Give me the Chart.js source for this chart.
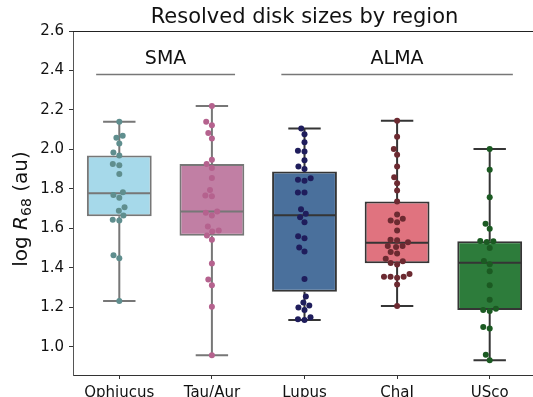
<!DOCTYPE html>
<html>
<head>
<meta charset="utf-8">
<title>Resolved disk sizes by region</title>
<script src="https://cdn.jsdelivr.net/npm/chart.js@4.4.1/dist/chart.umd.min.js"></script>
<style>
  html, body { margin: 0; padding: 0; background: #fff; overflow: hidden; }
</style>
</head>
<body>
<canvas id="diskChart" width="540" height="397"></canvas>
<script>
// Data (log R68 in au)

const regions = ['Ophiucus', 'Tau/Aur', 'Lupus', 'ChaI', 'USco'];

const ophiucus = [2.14, 2.07, 2.06, 2.03, 1.985, 1.97, 1.926, 1.92, 1.876, 1.783, 1.77, 1.755,
  1.707, 1.69, 1.666, 1.644, 1.64, 1.465, 1.449, 1.233];
const tauAur = [2.22, 2.14, 2.123, 2.083, 2.055, 1.948, 1.926, 1.906, 1.856, 1.795, 1.767, 1.763,
  1.686, 1.679, 1.666, 1.61, 1.59, 1.585, 1.565, 1.543, 1.422, 1.341, 1.313, 1.203, 0.958];
const lupus = [2.106, 2.077, 2.037, 1.993, 1.99, 1.945, 1.914, 1.901, 1.854, 1.847, 1.842, 1.782,
  1.782, 1.697, 1.674, 1.657, 1.632, 1.56, 1.551, 1.504, 1.484, 1.344, 1.256, 1.225, 1.21, 1.2,
  1.187, 1.15, 1.14, 1.136];
const chaI = [2.145, 2.064, 2.002, 1.973, 1.914, 1.859, 1.829, 1.792, 1.736, 1.671, 1.649, 1.64,
  1.632, 1.59, 1.543, 1.54, 1.53, 1.511, 1.511, 1.506, 1.481, 1.473, 1.447, 1.434, 1.425, 1.417,
  1.37, 1.355, 1.355, 1.355, 1.35, 1.316, 1.207];
const usco = [2.002, 1.898, 1.758, 1.624, 1.598, 1.536, 1.535, 1.531, 1.501, 1.435, 1.419, 1.383,
  1.313, 1.239, 1.193, 1.187, 1.182, 1.101, 1.094, 0.96, 0.933];

const regionValues = [ophiucus, tauAur, lupus, chaI, usco];

// box stats as drawn in the figure
const boxQ1 = [1.662, 1.563, 1.279, 1.424, 1.187];
const boxMedian = [1.778, 1.686, 1.667, 1.528, 1.427];
const boxQ3 = [1.97, 1.926, 1.889, 1.736, 1.535];
const whiskerLow = [1.233, 0.958, 1.136, 1.207, 0.933];
const whiskerHigh = [2.14, 2.22, 2.106, 2.145, 2.002];

const yTicks = [1.0, 1.2, 1.4, 1.6, 1.8, 2.0, 2.2, 2.4, 2.6];

// survey brackets above the boxes
const surveys = ['SMA', 'ALMA'];
const surveyFrom = [-0.25, 1.75];
const surveyTo = [1.25, 4.25];
const surveyLevel = 2.38;

// Styles

const boxColors = ['#a6d9ea', '#c17fa4', '#4a709c', '#e0737f', '#2d7c3b'];
const edgeColors = ['#777777', '#777777', '#353535', '#353535', '#353535'];
const dotColors = ['#5f8e8e', '#b5628e', '#1f1d5c', '#6c2a31', '#1b5a22'];

const BOX_WIDTH = 0.7;
const PX_PER_X = 92.6;
const PX_PER_Y = 197.5;
const DOT_GAP = 6.6;

Chart.defaults.font.family = 'DejaVu Sans';
Chart.defaults.color = '#111';

// Swarm layout: put each point as close to the centre as it can go without overlapping

function swarmOffsets(values)
{
  const order = values.map((v, i) => i).sort((a, b) => values[a] - values[b]);
  const placed = [];
  const offsets = new Array(values.length);

  order.forEach(i => {
    const y = values[i] * PX_PER_Y;
    const near = placed.filter(p => Math.abs(p.y - y) < DOT_GAP);
    const candidates = [0];

    near.forEach(p => {
      const dx = Math.sqrt(DOT_GAP * DOT_GAP - (p.y - y) * (p.y - y));
      candidates.push(p.x - dx, p.x + dx);
    });

    candidates.sort((a, b) => Math.abs(a) - Math.abs(b) || a - b);

    const x = candidates.find(c =>
      near.every(p => (p.x - c) * (p.x - c) + (p.y - y) * (p.y - y) >= DOT_GAP * DOT_GAP - 0.01)
    );

    placed.push({ x: x, y: y });
    offsets[i] = x / PX_PER_X;
  });

  return offsets;
}

// Datasets

const boxDataset =
{
  type: 'bar',
  order: 1,
  data: regions.map((r, i) => ({ x: i, y: [boxQ1[i], boxQ3[i]] })),
  backgroundColor: boxColors,
  borderColor: edgeColors,
  borderWidth: 2,
  borderSkipped: false,
  barPercentage: BOX_WIDTH,
  categoryPercentage: 1.0
};

const dotDatasets = regionValues.map((vals, i) => {
  const offsets = swarmOffsets(vals);
  return {
    type: 'scatter',
    order: 0,
    data: vals.map((v, k) => ({ x: i + offsets[k], y: v })),
    backgroundColor: dotColors[i],
    borderWidth: 0,
    pointRadius: 3,
    pointHoverRadius: 3
  };
});

// Whiskers, medians, survey brackets and the text matplotlib puts around the axes

const boxPlugin =
{
  id: 'boxExtras',

  afterDatasetDraw(chart, args)
  {
    if (args.index !== 0) return;

    const ctx = chart.ctx;
    const x = chart.scales.x;
    const y = chart.scales.y;

    ctx.save();
    ctx.lineWidth = 2;

    regions.forEach((r, i) => {
      const cx = x.getPixelForValue(i);
      const halfBox = x.getPixelForValue(i + BOX_WIDTH / 2) - cx;
      const halfCap = halfBox / 2;

      ctx.strokeStyle = edgeColors[i];
      ctx.beginPath();

      // whiskers
      ctx.moveTo(cx, y.getPixelForValue(boxQ3[i]));
      ctx.lineTo(cx, y.getPixelForValue(whiskerHigh[i]));
      ctx.moveTo(cx, y.getPixelForValue(boxQ1[i]));
      ctx.lineTo(cx, y.getPixelForValue(whiskerLow[i]));

      // caps
      ctx.moveTo(cx - halfCap, y.getPixelForValue(whiskerHigh[i]));
      ctx.lineTo(cx + halfCap, y.getPixelForValue(whiskerHigh[i]));
      ctx.moveTo(cx - halfCap, y.getPixelForValue(whiskerLow[i]));
      ctx.lineTo(cx + halfCap, y.getPixelForValue(whiskerLow[i]));

      // median
      ctx.moveTo(cx - halfBox + 1, y.getPixelForValue(boxMedian[i]));
      ctx.lineTo(cx + halfBox - 1, y.getPixelForValue(boxMedian[i]));
      ctx.stroke();
    });

    ctx.restore();
  },

  afterDraw(chart)
  {
    const ctx = chart.ctx;
    const area = chart.chartArea;
    const x = chart.scales.x;
    const y = chart.scales.y;

    ctx.save();

    // top spine
    ctx.strokeStyle = '#222';
    ctx.lineWidth = 1;
    ctx.beginPath();
    ctx.moveTo(area.left, area.top + 0.5);
    ctx.lineTo(area.right, area.top + 0.5);
    ctx.stroke();

    // survey brackets
    const lineY = y.getPixelForValue(surveyLevel);
    ctx.strokeStyle = '#777';
    ctx.lineWidth = 1.5;
    ctx.fillStyle = '#111';
    ctx.font = '19px "DejaVu Sans"';
    ctx.textAlign = 'center';
    ctx.textBaseline = 'alphabetic';

    surveys.forEach((name, i) => {
      const x0 = x.getPixelForValue(surveyFrom[i]);
      const x1 = x.getPixelForValue(surveyTo[i]);
      ctx.beginPath();
      ctx.moveTo(x0, lineY);
      ctx.lineTo(x1, lineY);
      ctx.stroke();
      ctx.fillText(name, (x0 + x1) / 2, lineY - 10);
    });

    // title
    ctx.font = '21px "DejaVu Sans"';
    ctx.fillText('Resolved disk sizes by region', (area.left + area.right) / 2, 23);

    // y axis label: log R_68 (au)
    const parts =
    [
      { text: 'log ', font: '20px "DejaVu Sans"', shift: 0 },
      { text: 'R', font: 'italic 20px "DejaVu Sans"', shift: 0 },
      { text: '68', font: '14px "DejaVu Sans"', shift: 4 },
      { text: ' (au)', font: '20px "DejaVu Sans"', shift: 0 }
    ];

    let total = 0;
    parts.forEach(p => {
      ctx.font = p.font;
      p.width = ctx.measureText(p.text).width;
      total += p.width;
    });

    ctx.translate(27, 209);
    ctx.rotate(-Math.PI / 2);
    ctx.textAlign = 'left';

    let pos = -total / 2;
    parts.forEach(p => {
      ctx.font = p.font;
      ctx.fillText(p.text, pos, p.shift);
      pos += p.width;
    });

    ctx.restore();
  }
};

// Chart

const canvas = document.getElementById('diskChart');

new Chart(canvas,
{
  type: 'scatter',
  data:
  {
    datasets: [boxDataset, ...dotDatasets]
  },
  options:
  {
    responsive: false,
    animation: false,
    layout:
    {
      padding: { left: 0, right: 4, top: 31, bottom: 0 }
    },
    plugins:
    {
      legend: { display: false },
      tooltip: { enabled: false }
    },
    scales:
    {
      x:
      {
        type: 'linear',
        min: -0.5,
        max: 4.5,
        offset: false,
        afterBuildTicks: scale => { scale.ticks = regions.map((r, i) => ({ value: i })); },
        afterFit: scale => { scale.height = 22; },
        grid: { drawOnChartArea: false, drawTicks: true, tickLength: 4, color: '#333', offset: false },
        border: { color: '#333', width: 1 },
        ticks:
        {
          color: '#111',
          font: { size: 15 },
          padding: 5,
          maxRotation: 0,
          autoSkip: false,
          callback: value => regions[value]
        }
      },
      y:
      {
        type: 'linear',
        min: 0.858,
        max: 2.6,
        beginAtZero: false,
        afterBuildTicks: scale => { scale.ticks = yTicks.map(v => ({ value: v })); },
        afterFit: scale => { scale.width = 73; },
        grid: { drawOnChartArea: false, drawTicks: true, tickLength: 4, color: '#333' },
        border: { color: '#555', width: 1 },
        ticks:
        {
          color: '#111',
          font: { size: 15 },
          padding: 5,
          callback: value => value.toFixed(1)
        }
      }
    }
  },
  plugins: [boxPlugin]
});
</script>
</body>
</html>
